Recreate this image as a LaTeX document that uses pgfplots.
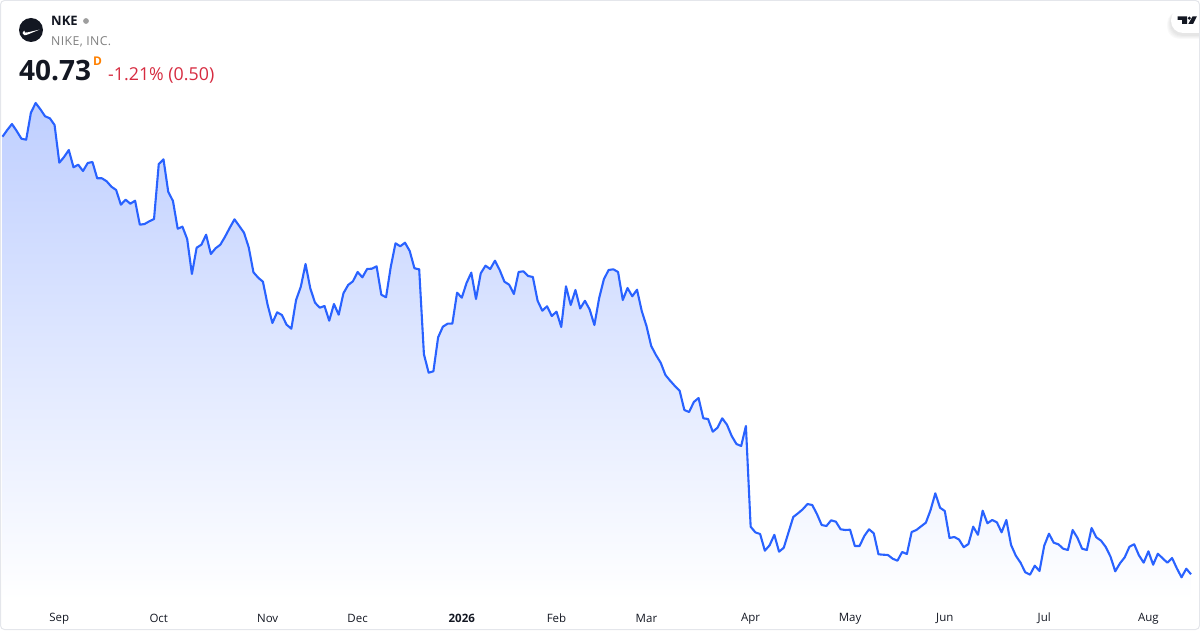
\documentclass[border=0pt]{standalone}
\usepackage{fontspec}
\setmainfont{Open Sans}
\usepackage{pgfplots}
\usepackage{pgfplotstable}
\pgfplotsset{compat=1.18}

\definecolor{tvblue}{HTML}{2962FF}
\definecolor{filltop}{HTML}{BFCFFF}
\definecolor{cardline}{HTML}{E4E6EB}
\definecolor{inkdark}{HTML}{131722}
\definecolor{redtxt}{HTML}{D62B40}

% daily close, height in px above the fill baseline
\pgfplotstableread[row sep=crcr]{
i v\\
0 463.3\\ 1 470\\ 2 476\\ 3 469\\ 4 461.3\\ 5 460.3\\ 6 487.3\\ 7 497\\ 8 490.7\\ 9 483.7\\
10 481.7\\ 11 475\\ 12 437.3\\ 13 443\\ 14 450\\ 15 432.7\\ 16 435.3\\ 17 429\\ 18 437\\ 19 438\\
20 421.7\\ 21 421.7\\ 22 418.7\\ 23 413.3\\ 24 410\\ 25 395.3\\ 26 400.3\\ 27 396.3\\ 28 399.3\\ 29 375.3\\
30 376\\ 31 378.7\\ 32 381\\ 33 436\\ 34 440.7\\ 35 408.3\\ 36 399\\ 37 371.3\\ 38 373.3\\ 39 361\\
40 326\\ 41 352.3\\ 42 355.3\\ 43 365.3\\ 44 346\\ 45 351.7\\ 46 355.3\\ 47 363.3\\ 48 372.3\\ 49 380.7\\
50 374\\ 51 367.3\\ 52 352.7\\ 53 327.7\\ 54 322.3\\ 55 318.3\\ 56 295\\ 57 277\\ 58 287.7\\ 59 285\\
60 275.3\\ 61 271.3\\ 62 300\\ 63 313.3\\ 64 336\\ 65 311.7\\ 66 297.3\\ 67 292.3\\ 68 294\\ 69 279.3\\
70 296\\ 71 285.3\\ 72 306.7\\ 73 315\\ 74 318.7\\ 75 328\\ 76 322.7\\ 77 331\\ 78 331.3\\ 79 333.7\\
80 305.3\\ 81 302.7\\ 82 333.3\\ 83 356.7\\ 84 353.7\\ 85 357.3\\ 86 349\\ 87 331.7\\ 88 330.7\\ 89 245.7\\
90 227.3\\ 91 228.7\\ 92 262.7\\ 93 273.3\\ 94 276.3\\ 95 276.3\\ 96 307.3\\ 97 302.3\\ 98 317\\ 99 327.3\\
100 301\\ 101 326.7\\ 102 334.3\\ 103 331\\ 104 339.3\\ 105 330\\ 106 318.3\\ 107 315.3\\ 108 306\\ 109 328\\
110 328.7\\ 111 324\\ 112 323\\ 113 299.3\\ 114 289.3\\ 115 293.7\\ 116 284\\ 117 288.3\\ 118 273\\ 119 313.7\\
120 295\\ 121 310\\ 122 291.5\\ 123 299.2\\ 124 290.5\\ 125 275\\ 126 301.7\\ 127 320.7\\ 128 330\\ 129 330.7\\
130 328\\ 131 300\\ 132 312\\ 133 303.7\\ 134 310.3\\ 135 289\\ 136 274\\ 137 254\\ 138 245\\ 139 237.3\\
140 225\\ 141 219.3\\ 142 214\\ 143 209.3\\ 144 190\\ 145 188\\ 146 198\\ 147 202\\ 148 181.7\\ 149 181\\
150 168.3\\ 151 172.3\\ 152 181.7\\ 153 175.3\\ 154 164\\ 155 156\\ 156 154\\ 157 174\\ 158 73.3\\ 159 67.6\\
160 66\\ 161 49.3\\ 162 54.7\\ 163 65.2\\ 164 48.3\\ 165 52.3\\ 166 67.7\\ 167 83\\ 168 86.7\\ 169 90.7\\
170 96\\ 171 95\\ 172 86\\ 173 75\\ 174 74\\ 175 79.7\\ 176 78.3\\ 177 70.7\\ 178 70\\ 179 70.3\\
180 54\\ 181 54\\ 182 64\\ 183 70.7\\ 184 66.7\\ 185 45.7\\ 186 45.3\\ 187 45\\ 188 41.3\\ 189 39.3\\
190 48\\ 191 46\\ 192 68\\ 193 70\\ 194 73.7\\ 195 77.3\\ 196 90\\ 197 106.7\\ 198 92.3\\ 199 89\\
200 62\\ 201 63\\ 202 60.5\\ 203 52.8\\ 204 56\\ 205 73.3\\ 206 65.2\\ 207 89.3\\ 208 76.7\\ 209 80\\
210 77.7\\ 211 67.7\\ 212 80\\ 213 55\\ 214 44.3\\ 215 37.3\\ 216 27.7\\ 217 25.3\\ 218 34.3\\ 219 29\\
220 54.3\\ 221 66.3\\ 222 57.3\\ 223 55.7\\ 224 51.3\\ 225 50\\ 226 70\\ 227 62.3\\ 228 51.3\\ 229 50\\
230 72\\ 231 62.7\\ 232 59.3\\ 233 53\\ 234 43.3\\ 235 28.7\\ 236 36.7\\ 237 42.7\\ 238 53.3\\ 239 55.7\\
240 44.7\\ 241 37.3\\ 242 48.7\\ 243 35.3\\ 244 46.3\\ 245 41.7\\ 246 37.3\\ 247 42\\ 248 31.7\\ 249 22.7\\
250 31.3\\ 251 25.7\\
}\closes

\begin{document}
\begin{tikzpicture}
\useasboundingbox (0pt,0pt) rectangle (1200pt,630pt);
\begin{axis}[
    scale only axis,
    width=1200pt,
    height=630pt,
    xmin=-0.528, xmax=252.9,
    ymin=-30, ymax=600,
    axis line style={draw=none},
    major tick length=0pt,
    ytick=\empty,
    xtick={12,33,56,75,97,117,136,158,179,199,220,242},
    xticklabels={Sep,Oct,Nov,Dec,{\bfseries 2026},Feb,Mar,Apr,May,Jun,Jul,Aug},
    xticklabel style={anchor=center, yshift=11.5pt, font=\fontsize{11.5}{14}\selectfont, text=inkdark},
]
\addplot[draw=none, shade, top color=filltop, bottom color=white, forget plot]
    table[x=i, y=v] {\closes} \closedcycle;
\addplot[tvblue, line width=2.1pt, line join=round, no marks]
    table[x=i, y=v] {\closes};
\end{axis}

% header and badges, in reference pixels
\begin{scope}[x=1pt, y=-1pt, shift={(0pt,630pt)}]
  \fill[inkdark] (31,30) circle (12);
  \fill[white] (22.5,33) .. controls (22.6,35.4) and (25,35.6) .. (28,34.4)
     -- (39.5,29.6) -- (28,32.3) .. controls (25.6,32.9) and (24,33) .. (24.2,30.6)
     .. controls (23,31.2) and (22.5,32) .. (22.5,33) -- cycle;

  \node[anchor=base west, inner sep=0, font=\fontsize{13}{15}\bfseries\selectfont, text=inkdark] at (51,26) {NKE};
  \fill[black!38] (86,21) circle (2.9);
  \node[anchor=base west, inner sep=0, font=\fontsize{12.3}{15}\selectfont, text=black!50] at (51,45.5) {\addfontfeature{LetterSpace=3}NIKE, INC.};
  \node[anchor=base west, inner sep=0, font=\fontsize{28}{30}\bfseries\selectfont, text=inkdark] at (19,81) {40.73};
  \node[anchor=base west, inner sep=0, font=\fontsize{12}{14}\bfseries\selectfont, text=orange] at (93,66) {D};
  \node[anchor=base west, inner sep=0, font=\fontsize{17.8}{20}\selectfont, text=redtxt] at (108,81) {-1.21\% (0.50)};

  % logo pill, stacked translucent shapes for the soft shadow
  \begin{scope}
    \clip (1150,0) rectangle (1200,50);
    \foreach \g in {5,4,3,2,1}
      \fill[black, opacity=0.018, rounded corners=12pt] (1171-\g*0.8,10+\g*0.3) rectangle (1215,35+\g*0.8);
    \fill[white, rounded corners=12pt] (1171,8) rectangle (1215,33);
  \end{scope}
  \fill[inkdark] (1177.5,16.5) -- (1187,16.5) -- (1187,24) -- (1182,24) -- (1182,20) -- (1177.5,20) -- cycle;
  \fill[inkdark] (1189.3,18.2) circle (1.7);
  \fill[inkdark] (1192.5,16.5) -- (1196.8,16.5) -- (1193,24) -- (1188.3,24) -- cycle;

  \draw[cardline, line width=1pt, rounded corners=4pt] (0.5,0.5) rectangle (1199.5,629.5);
\end{scope}
\end{tikzpicture}
\end{document}
